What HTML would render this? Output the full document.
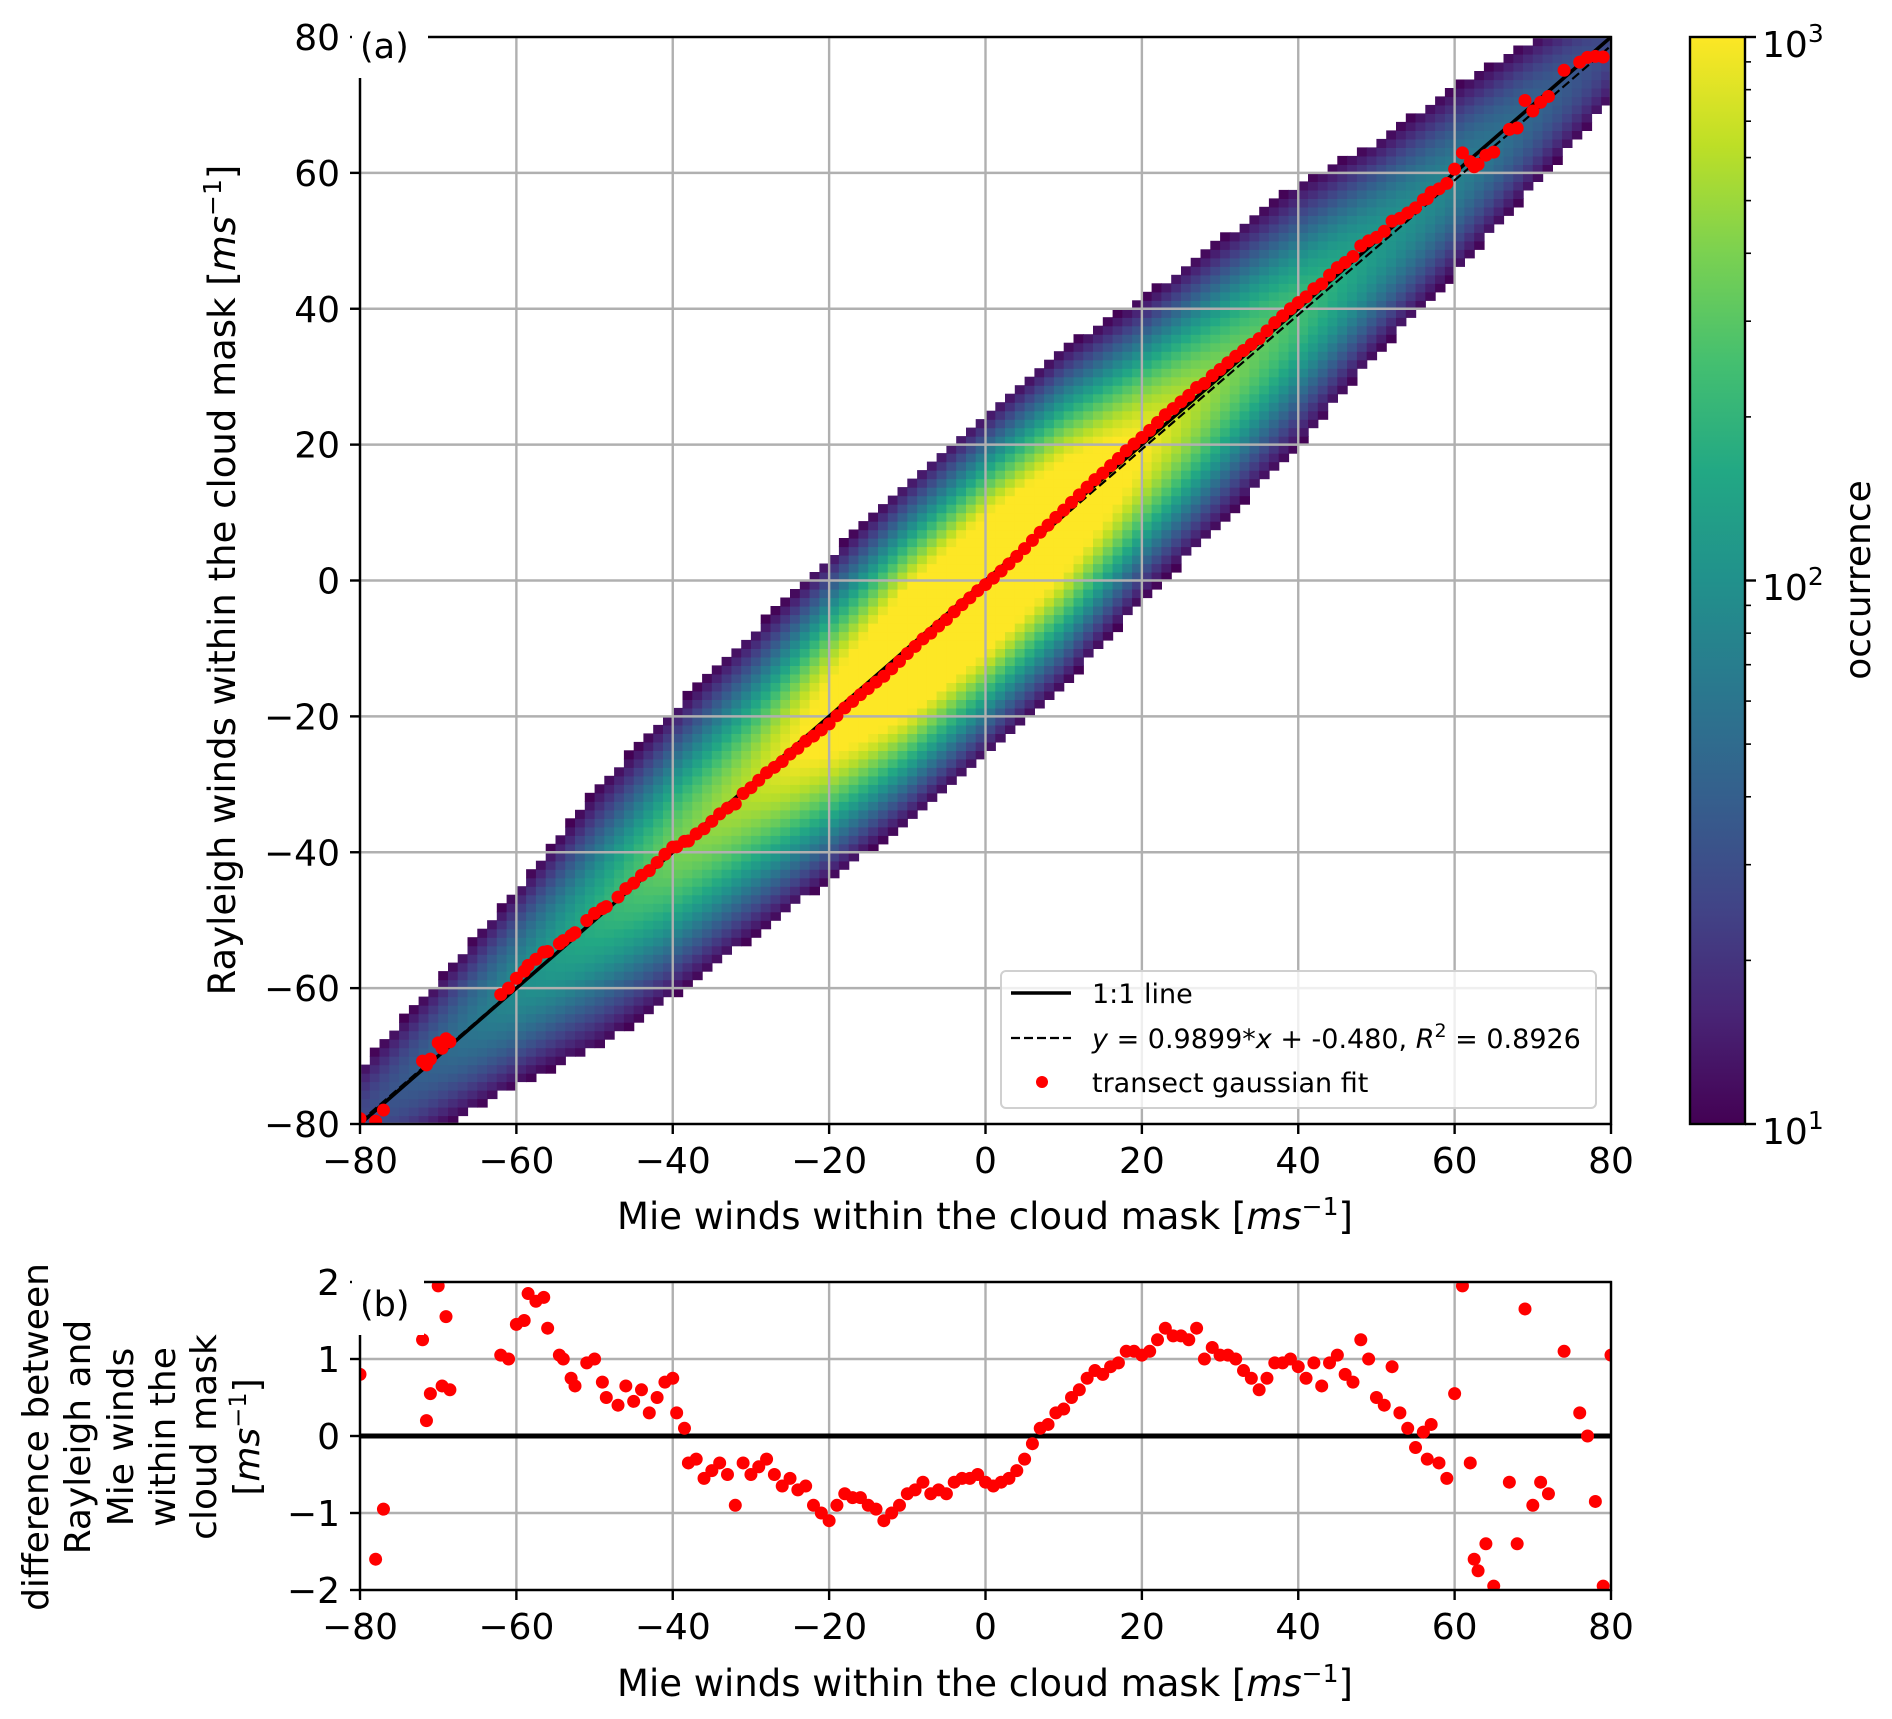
<!DOCTYPE html>
<html><head><meta charset="utf-8"><style>
html,body{margin:0;padding:0;background:#fff}
svg{display:block;font-family:"DejaVu Sans","Liberation Sans",sans-serif}
</style></head><body>
<svg id="fig" width="1892" height="1719" viewBox="0 0 1892 1719" xmlns="http://www.w3.org/2000/svg">
<defs>
<linearGradient id="viridis" x1="0" y1="1" x2="0" y2="0">
<stop offset="0" stop-color="#440154"/><stop offset="0.1" stop-color="#482475"/><stop offset="0.2" stop-color="#414487"/><stop offset="0.3" stop-color="#355f8d"/><stop offset="0.4" stop-color="#2a788e"/><stop offset="0.5" stop-color="#21918c"/><stop offset="0.6" stop-color="#22a884"/><stop offset="0.7" stop-color="#44bf70"/><stop offset="0.8" stop-color="#7ad151"/><stop offset="0.9" stop-color="#bddf26"/><stop offset="1" stop-color="#fde725"/>
</linearGradient>
<clipPath id="clipA"><rect x="360" y="37" width="1251" height="1087"/></clipPath>
<clipPath id="clipB"><rect x="360" y="1282" width="1251" height="308"/></clipPath>
</defs>
<g id="panelA"></g>
<g id="panelB"></g>
</svg>
<script>
// ---- data ----
const heatX = [-80,-70,-60,-50,-40,-30,-20,-10,0,10,20,30,40,50,60,70,80];
const heatCore = [15,25,60,120,280,500,1200,2500,3000,2000,900,350,180,80,45,25,15];
const heatTail = [12,20,30,60,90,120,150,160,160,150,110,85,65,40,30,20,12];
const tailSigma = [7,8,9,10,10,10,10,10.5,10.5,10.5,10,10,10,9,9,8,7];
const coreSigma = [5,5,5.5,5.5,6,6,6.5,6.5,6.5,6.5,6,6,5.5,5.5,5,5,5];
const diffX = [-80,-78,-77,-72,-71.5,-71,-70,-69.5,-69,-68.5,-62,-61,-60,-59,-58.5,-57.5,-56.5,-56,-54.5,-54,-53,-52.5,-51,-50,-49,-48.5,-47,-46,-45,-44,-43,-42,-41,-40,-39.5,-38.5,-38,-37,-36,-35,-34,-33,-32,-31,-30,-29,-28,-27,-26,-25,-24,-23,-22,-21,-20,-19,-18,-17,-16,-15,-14,-13,-12,-11,-10,-9,-8,-7,-6,-5,-4,-3,-2,-1,0,1,2,3,4,5,6,7,8,9,10,11,12,13,14,15,16,17,18,19,20,21,22,23,24,25,26,27,28,29,30,31,32,33,34,35,36,37,38,39,40,41,42,43,44,45,46,47,48,49,50,51,52,53,54,55,56,56.5,57,58,59,60,61,62,62.5,63,64,65,67,68,69,70,71,72,74,76,77,78,79,80];
const diffY = [0.8,-1.6,-0.95,1.25,0.2,0.55,1.95,0.65,1.55,0.6,1.05,1.0,1.45,1.5,1.85,1.75,1.8,1.4,1.05,1.0,0.75,0.65,0.95,1.0,0.7,0.5,0.4,0.65,0.45,0.6,0.3,0.5,0.7,0.75,0.3,0.1,-0.35,-0.3,-0.55,-0.45,-0.35,-0.5,-0.9,-0.35,-0.5,-0.4,-0.3,-0.5,-0.65,-0.55,-0.7,-0.65,-0.9,-1.0,-1.1,-0.9,-0.75,-0.8,-0.8,-0.9,-0.95,-1.1,-1.0,-0.9,-0.75,-0.7,-0.6,-0.75,-0.7,-0.75,-0.6,-0.55,-0.55,-0.5,-0.6,-0.65,-0.6,-0.55,-0.45,-0.3,-0.1,0.1,0.15,0.3,0.35,0.5,0.6,0.75,0.85,0.8,0.9,0.95,1.1,1.1,1.05,1.1,1.25,1.4,1.3,1.3,1.25,1.4,1.0,1.15,1.05,1.05,1.0,0.85,0.75,0.6,0.75,0.95,0.95,1.0,0.9,0.75,0.95,0.65,0.95,1.05,0.8,0.7,1.25,1.0,0.5,0.4,0.9,0.3,0.1,-0.15,0.05,-0.3,0.15,-0.35,-0.55,0.55,1.95,-0.35,-1.6,-1.75,-1.4,-1.95,-0.6,-1.4,1.65,-0.9,-0.6,-0.75,1.1,0.3,0.0,-0.85,-1.95,1.05];
const xTicks = [-80,-60,-40,-20,0,20,40,60,80];
const yTicksA = [-80,-60,-40,-20,0,20,40,60,80];
const yTicksB = [-2,-1,0,1,2];
const fitSlope = 0.9899, fitIntercept = -0.480;

// ---- scales ----
const AX0=360, AX1=1611, AY0=37, AY1=1124, BY0=1282, BY1=1590;
const sx = v => AX0 + (v+80)/160*(AX1-AX0);
const syA = v => AY1 - (v+80)/160*(AY1-AY0);
const syB = v => BY1 - (v+2)/4*(BY1-BY0);
const NS="http://www.w3.org/2000/svg";
function mk(tag, attrs, parent){const e=document.createElementNS(NS,tag);for(const k in attrs)e.setAttribute(k,attrs[k]);parent.appendChild(e);return e;}
const vir=["#440154","#482475","#414487","#355f8d","#2a788e","#21918c","#22a884","#44bf70","#7ad151","#bddf26","#fde725"];
function hex(c){return [parseInt(c.slice(1,3),16),parseInt(c.slice(3,5),16),parseInt(c.slice(5,7),16)];}
function viridis(t){t=Math.max(0,Math.min(1,t));const f=t*10,i=Math.min(9,Math.floor(f)),r=f-i;const a=hex(vir[i]),b=hex(vir[i+1]);return `rgb(${Math.round(a[0]+(b[0]-a[0])*r)},${Math.round(a[1]+(b[1]-a[1])*r)},${Math.round(a[2]+(b[2]-a[2])*r)})`;}
function lerpArr(arr,x){for(let i=0;i<heatX.length-1;i++){if(x<=heatX[i+1]){const r=(x-heatX[i])/(heatX[i+1]-heatX[i]);return arr[i]+(arr[i+1]-arr[i])*r;}}return arr[arr.length-1];}
const logCore=heatCore.map(Math.log), logTail=heatTail.map(Math.log);

const A=document.getElementById('panelA'), B=document.getElementById('panelB');

// ---- Panel A heatmap ----
const hm=mk('g',{'clip-path':'url(#clipA)'},A);


const bw=1.25;
for(let xb=-80;xb<80;xb+=bw){
  const xc=xb+bw/2;
  const ck=Math.exp(lerpArr(logCore,xc)), tk=Math.exp(lerpArr(logTail,xc));
  const cs=lerpArr(coreSigma,xc), ts=lerpArr(tailSigma,xc);
  const cen=fitSlope*xc+fitIntercept;
  for(let yb=-80;yb<80;yb+=bw){
    const yc=yb+bw/2, d2=(yc-cen)**2;
    const n=ck*Math.exp(-d2/(2*cs*cs))+tk*Math.exp(-d2/(2*ts*ts));
    if(n<10)continue;
    const t=(Math.log10(n)-1)/2;
    const r=mk('rect',{x:sx(xb).toFixed(1),y:syA(yb+bw).toFixed(1),width:(sx(xb+bw)-sx(xb)+0.6).toFixed(1),height:(syA(yb)-syA(yb+bw)+0.6).toFixed(1),fill:viridis(t)},hm);
    
    
  }
}
// grid A
const gA=mk('g',{stroke:'#b0b0b0','stroke-width':2.4},A);


xTicks.forEach(v=>mk('line',{x1:sx(v),x2:sx(v),y1:AY0,y2:AY1},gA));
yTicksA.forEach(v=>mk('line',{x1:AX0,x2:AX1,y1:syA(v),y2:syA(v)},gA));
// lines
const l11=mk('line',{x1:sx(-80),y1:syA(-80),x2:sx(80),y2:syA(80),stroke:'#000','stroke-width':3.6,'clip-path':'url(#clipA)'},A);


const lf=mk('line',{x1:sx(-80),y1:syA(fitSlope*-80+fitIntercept),x2:sx(80),y2:syA(fitSlope*80+fitIntercept),stroke:'#000','stroke-width':2.2,'stroke-dasharray':'9,4','clip-path':'url(#clipA)'},A);


// red points A
const pA=mk('g',{fill:'#ff0000','clip-path':'url(#clipA)'},A);


diffX.forEach((x,i)=>{const c=mk('circle',{cx:sx(x),cy:syA(x+diffY[i]),r:6.5},pA);

});

// ---- Panel B ----
const gB=mk('g',{stroke:'#b0b0b0','stroke-width':2.4},B);


xTicks.forEach(v=>mk('line',{x1:sx(v),x2:sx(v),y1:BY0,y2:BY1},gB));
yTicksB.forEach(v=>mk('line',{x1:AX0,x2:AX1,y1:syB(v),y2:syB(v)},gB));
const z=mk('line',{x1:AX0,x2:AX1,y1:syB(0),y2:syB(0),stroke:'#000','stroke-width':5},B);


const pB=mk('g',{fill:'#ff0000','clip-path':'url(#clipB)'},B);


diffX.forEach((x,i)=>{const c=mk('circle',{cx:sx(x),cy:syB(diffY[i]),r:6.5},pB);

});

// ---- axes frames & ticks ----
function frame(P,y0,y1,name){
  const f=mk('rect',{x:AX0,y:y0,width:AX1-AX0,height:y1-y0,fill:'none',stroke:'#000','stroke-width':2.4},P);
  
  
}
frame(A,AY0,AY1,'axes-frame-a');frame(B,BY0,BY1,'axes-frame-b');
function xTickLabels(P,yb,name){
  const g=mk('g',{'font-size':36,'text-anchor':'middle',fill:'#000'},P);
  
  
  xTicks.forEach(v=>{mk('line',{x1:sx(v),x2:sx(v),y1:yb,y2:yb+10,stroke:'#000','stroke-width':2.4},g);
    const t=mk('text',{x:sx(v),y:yb+49},g);t.textContent=(v<0?'\u2212'+(-v):v);});
}
xTickLabels(A,AY1,'x-tick-labels-a');xTickLabels(B,BY1,'x-tick-labels-b');
function yTickLabels(P,ticks,sy,name){
  const g=mk('g',{'font-size':36,'text-anchor':'end',fill:'#000'},P);
  
  
  ticks.forEach(v=>{mk('line',{x1:AX0-10,x2:AX0,y1:sy(v),y2:sy(v),stroke:'#000','stroke-width':2.4},g);
    const t=mk('text',{x:AX0-20,y:sy(v)+13},g);t.textContent=(v<0?'\u2212'+(-v):v);});
}
yTickLabels(A,yTicksA,syA,'y-tick-labels-a');yTickLabels(B,yTicksB,syB,'y-tick-labels-b');
</script>
<script>
const fig=document.getElementById('fig');
fig.insertAdjacentHTML('beforeend',`
<rect x="352" y="20" width="76" height="58" fill="#fff"/>
<text x="360" y="58" font-size="35">(a)</text>
<rect x="352" y="1265" width="72" height="70" fill="#fff"/>
<text x="360" y="1316" font-size="35">(b)</text>
<text x="985" y="1229" font-size="37" text-anchor="middle">Mie winds within the cloud mask [<tspan font-style="italic">ms</tspan><tspan font-size="25" dy="-14">−1</tspan><tspan dy="14">]</tspan></text>
<text x="985" y="1696" font-size="37" text-anchor="middle">Mie winds within the cloud mask [<tspan font-style="italic">ms</tspan><tspan font-size="25" dy="-14">−1</tspan><tspan dy="14">]</tspan></text>
<text transform="translate(235,580) rotate(-90)" font-size="37" text-anchor="middle">Rayleigh winds within the cloud mask [<tspan font-style="italic">ms</tspan><tspan font-size="25" dy="-14">−1</tspan><tspan dy="14">]</tspan></text>
<g font-size="36" text-anchor="middle">
<text transform="translate(48,1437) rotate(-90)">difference between</text>
<text transform="translate(90,1437) rotate(-90)">Rayleigh and</text>
<text transform="translate(133,1437) rotate(-90)">Mie winds</text>
<text transform="translate(175,1437) rotate(-90)">within the</text>
<text transform="translate(216,1437) rotate(-90)">cloud mask</text>
<text transform="translate(259,1437) rotate(-90)">[<tspan font-style="italic">ms</tspan><tspan font-size="24" dy="-13">−1</tspan><tspan dy="13">]</tspan></text>
</g>
<g>
<rect x="1001" y="971" width="595" height="137" rx="5" fill="#fff" fill-opacity="0.8" stroke="#d0d0d0" stroke-width="2"/>
<line x1="1011" x2="1071" y1="993" y2="993" stroke="#000" stroke-width="3.6"/>
<text x="1092" y="1003" font-size="27">1:1 line</text>
<line x1="1011" x2="1071" y1="1038" y2="1038" stroke="#000" stroke-width="2.2" stroke-dasharray="9,4"/>
<text x="1092" y="1048" font-size="27"><tspan font-style="italic">y</tspan> = 0.9899*<tspan font-style="italic">x</tspan> + -0.480,  <tspan font-style="italic">R</tspan><tspan font-size="19" dy="-11">2</tspan><tspan dy="11"> = 0.8926</tspan></text>
<circle cx="1042" cy="1082" r="6" fill="#ff0000"/>
<text x="1092" y="1092" font-size="27">transect gaussian fit</text>
</g>
<g>
<rect x="1690" y="37" width="55" height="1087" fill="url(#viridis)" stroke="#000" stroke-width="2.4"/>
<g stroke="#000" stroke-width="2.4">
<line x1="1745" x2="1756" y1="37" y2="37"/><line x1="1745" x2="1756" y1="580.5" y2="580.5"/><line x1="1745" x2="1756" y1="1124" y2="1124"/>
</g>
<g stroke="#000" stroke-width="1.6" id="minor"></g>
<text x="1762" y="57" font-size="36">10<tspan font-size="25" dy="-15">3</tspan></text>
<text x="1762" y="600" font-size="36">10<tspan font-size="25" dy="-15">2</tspan></text>
<text x="1762" y="1144" font-size="36">10<tspan font-size="25" dy="-15">1</tspan></text>
<text transform="translate(1870,580) rotate(-90)" font-size="36" text-anchor="middle">occurrence</text>
</g>`);
const minor=document.getElementById('minor');
[1,2].forEach(d=>{for(let m=2;m<10;m++){const y=1124-(d-1+Math.log10(m))*543.5;
const l=document.createElementNS("http://www.w3.org/2000/svg",'line');
l.setAttribute('x1',1745);l.setAttribute('x2',1751);l.setAttribute('y1',y);l.setAttribute('y2',y);minor.appendChild(l);}});
</script>
</body></html>
